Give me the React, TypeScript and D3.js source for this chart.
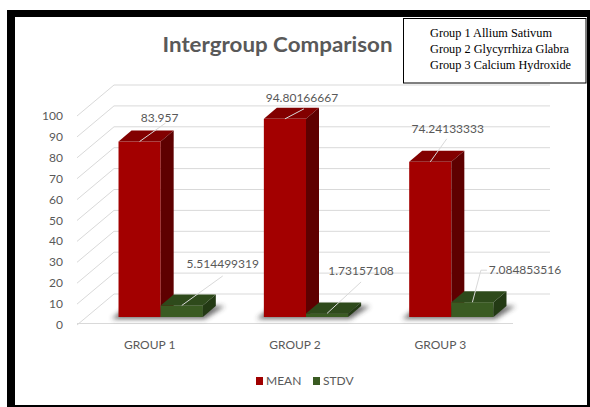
import React from "react";
import * as d3 from "d3";

const groups = ["GROUP 1", "GROUP 2", "GROUP 3"];
const seriesNames = ["MEAN", "STDV"];
const meanValues = [83.957, 94.80166667, 74.24133333];
const stdvValues = [5.514499319, 1.73157108, 7.084853516];
const meanLabels = ["83.957", "94.80166667", "74.24133333"];
const stdvLabels = ["5.514499319", "1.73157108", "7.084853516"];
const yTicks = [0, 10, 20, 30, 40, 50, 60, 70, 80, 90, 100];
const noteLines = ["Group 1 Allium Sativum", "Group 2 Glycyrrhiza Glabra", "Group 3 Calcium Hydroxide"];
const chartTitle = "Intergroup Comparison";

// layout (not data)
const W = 590, H = 407;
const WALL_DX = 37, WALL_DY = 31; // depth of the 3D box
const BAR_DX = 11, BAR_DY = 8; // bar front-face offset from floor front
const TOP_DX = 13, TOP_DY = 11; // bar depth
const meanLabelOff = [[20, -23.5], [17, -21], [17.5, -33]];
const stdvLabelOff = [[41, -41.5], [34, -42.4], [52.5, -32]];
const meanLeader = [[[6, 5]], [[2, 11]], [[-1, 10]]];
const stdvLeader = [[[0, 12]], [[0, 11]], [[-38, 0], [-44, 0]]];

const colors = {
  mean: { front: "#a30000", top: "#820000", side: "#5e0000", legend: "#a00000" },
  stdv: { front: "#3a5b22", top: "#2e4a1b", side: "#233a14", legend: "#3a5b22" },
};

const FONT = "Lato, 'Open Sans', sans-serif";
const GRAY = "#595959";
const GRID = "#d9d9d9";

function Bar({ x, w, top, base, c }) {
  return (
    <g>
      <rect x={x} y={top} width={w} height={base - top} fill={c.front} />
      <polygon
        points={`${x},${top} ${x + w},${top} ${x + w + TOP_DX},${top - TOP_DY} ${x + TOP_DX},${top - TOP_DY}`}
        fill={c.top}
      />
      <polygon
        points={`${x + w},${top} ${x + w + TOP_DX},${top - TOP_DY} ${x + w + TOP_DX},${base - TOP_DY} ${x + w},${base}`}
        fill={c.side}
      />
    </g>
  );
}

export default function App() {
  const x = d3.scaleBand<string>().domain(groups).range([77, 513]).padding(0);
  const y = d3.scaleLinear().domain([0, 100]).range([325, 116]);
  const bw = x.bandwidth() * 0.29;
  const floorL = x.range()[0];
  const floorR = x.range()[1];

  const bars = groups.map((g, i) => {
    const cx = (x(g) as number) + x.bandwidth() / 2 + BAR_DX;
    const base = y(0) - BAR_DY;
    return {
      g,
      cx,
      base,
      redX: cx - bw,
      greenX: cx,
      redTop: y(meanValues[i]) - BAR_DY,
      greenTop: y(stdvValues[i]) - BAR_DY,
    };
  });

  const labelItems = [];
  bars.forEach((b, i) => {
    const ax = b.redX + bw / 2;
    const ay = b.redTop;
    const lx = ax + meanLabelOff[i][0];
    const ly = ay + meanLabelOff[i][1];
    labelItems.push({ text: meanLabels[i], lx, ly, pts: [...meanLeader[i].map((p) => [lx + p[0], ly + p[1]]), [ax, ay]] });
    const gx = b.greenX + bw / 2;
    const gy = b.greenTop;
    const slx = gx + stdvLabelOff[i][0];
    const sly = gy + stdvLabelOff[i][1];
    labelItems.push({ text: stdvLabels[i], lx: slx, ly: sly, pts: [...stdvLeader[i].map((p) => [slx + p[0], sly + p[1]]), [gx, gy]] });
  });

  const line = d3.line();

  return (
    <svg width={W} height={H} style={{ position: "absolute", left: 0, top: 0, background: "#fff" }}>
      <defs>
        <filter id="blur" x="-50%" y="-50%" width="200%" height="200%">
          <feGaussianBlur stdDeviation="2.5" />
        </filter>
      </defs>
      <rect x={7} y={10} width={583} height={397} fill="#000" />
      <rect x={15} y={17} width={572} height={388} fill="#fff" />

      {/* title */}
      <text x={277.5} y={52} textAnchor="middle" fontFamily={FONT} fontWeight="bold" fontSize={21.5} fill={GRAY} textLength={230} lengthAdjust="spacingAndGlyphs">
        {chartTitle}
      </text>

      {/* note box */}
      <rect x={403.5} y={18.5} width={182.5} height={64.5} fill="#fff" stroke="#000" strokeWidth={1} />
      {noteLines.map((t, i) => (
        <text key={t} x={430} y={37 + i * 16} fontFamily="'Liberation Serif', 'Times New Roman', serif" fontSize={12.3} fill="#000">
          {t}
        </text>
      ))}

      {/* walls */}
      {yTicks.map((v) => (
        <g key={v}>
          <line x1={floorL} y1={y(v)} x2={floorL + WALL_DX} y2={y(v) - WALL_DY} stroke={GRID} strokeWidth={1} />
          <line x1={floorL + WALL_DX} y1={y(v) - WALL_DY} x2={floorR + WALL_DX} y2={y(v) - WALL_DY} stroke={GRID} strokeWidth={1} />
        </g>
      ))}
      <line x1={floorL} y1={y(0) - 1.5} x2={floorR} y2={y(0) - 1.5} stroke={GRID} strokeWidth={1} />

      {/* y labels */}
      {yTicks.map((v) => (
        <text key={v} x={63} y={y(v) + 4} textAnchor="end" fontFamily={FONT} fontSize={12} fill={GRAY}>
          {v}
        </text>
      ))}

      {/* shadows */}
      {bars.map((b) => {
        const L = b.redX;
        const R = b.greenX + bw;
        return (
          <polygon
            key={"s" + b.g}
            points={`${L - 7},${b.base + 2} ${R + 2},${b.base + 2} ${R + TOP_DX + 9},${b.base - TOP_DY} ${L + TOP_DX - 4},${b.base - TOP_DY}`}
            fill="#333"
            opacity={0.7}
            filter="url(#blur)"
          />
        );
      })}

      {/* bars */}
      {bars.map((b) => (
        <g key={b.g}>
          <Bar x={b.redX} w={bw} top={b.redTop} base={b.base} c={colors.mean} />
          <Bar x={b.greenX} w={bw} top={b.greenTop} base={b.base} c={colors.stdv} />
        </g>
      ))}

      {/* data labels */}
      {labelItems.map((l) => (
        <g key={l.text}>
          <path d={line(l.pts as [number, number][]) as string} fill="none" stroke="#d9d9d9" strokeWidth={1} />
          <text x={l.lx} y={l.ly + 4} textAnchor="middle" fontFamily={FONT} fontSize={12} fill={GRAY}>
            {l.text}
          </text>
        </g>
      ))}

      {/* category labels */}
      {groups.map((g) => (
        <text key={g} x={(x(g) as number) + x.bandwidth() / 2} y={349} textAnchor="middle" fontFamily={FONT} fontSize={12} fill={GRAY}>
          {g}
        </text>
      ))}

      {/* legend */}
      {seriesNames.map((s, i) => {
        const lx = [256, 313][i];
        return (
          <g key={s}>
            <rect x={lx} y={377} width={7} height={8} fill={i === 0 ? colors.mean.legend : colors.stdv.legend} />
            <text x={lx + 10} y={385} fontFamily={FONT} fontSize={12} fill={GRAY}>
              {s}
            </text>
          </g>
        );
      })}
    </svg>
  );
}
